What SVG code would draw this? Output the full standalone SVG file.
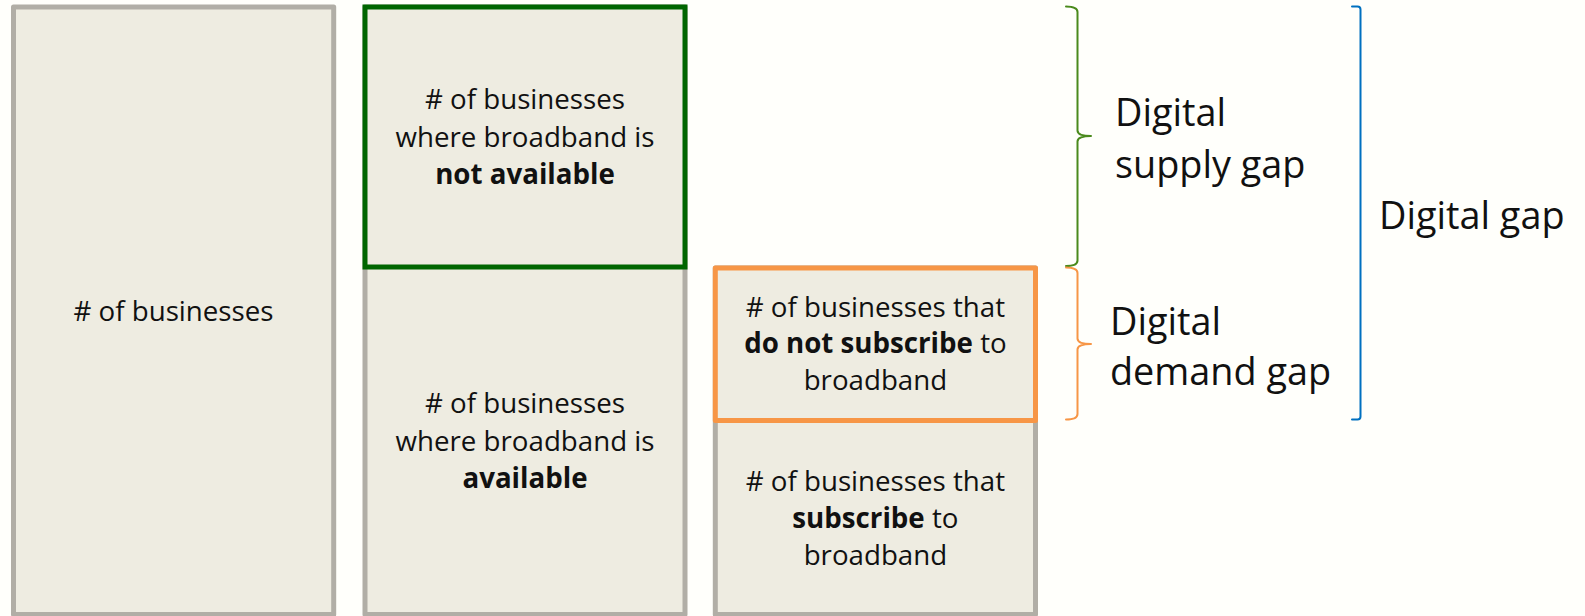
<svg xmlns="http://www.w3.org/2000/svg" width="1585" height="616" viewBox="0 0 1585 616">
<style>
.box{fill:#EEECE1;stroke:#B1AEA6;stroke-width:5;stroke-linejoin:round}
.green{fill:#EEECE1;stroke:#006600;stroke-width:5}
.orange{fill:#EEECE1;stroke:#F79646;stroke-width:5;stroke-linejoin:round}
.t{font-family:"Open Sans","Liberation Sans",sans-serif;font-size:27.7px;fill:#111;text-anchor:middle}
.b{font-weight:bold}
.lbl{font-family:"Open Sans","Liberation Sans",sans-serif;font-size:37.8px;fill:#111}
.brace{fill:none;stroke-width:2;stroke-linecap:round;stroke-linejoin:round}
</style>
<rect width="1585" height="616" fill="#FFFFFB"/>
<g id="node-all">
<rect class="box" x="13.5" y="7" width="320.2" height="607.5"/>
<text class="t" x="173.5" y="321"># of businesses</text>
</g>
<g id="node-available">
<rect class="box" x="365" y="7" width="320" height="607.5"/>
<text class="t" x="525" y="413.3"># of businesses</text>
<text class="t" x="525" y="450.7">where broadband is</text>
<text class="t b" x="525" y="488.3">available</text>
</g>
<g id="node-not-available">
<rect class="green" x="365" y="7" width="320" height="260"/>
<text class="t" x="525" y="109.3"># of businesses</text>
<text class="t" x="525" y="146.7">where broadband is</text>
<text class="t b" x="525" y="184">not available</text>
</g>
<g id="node-subscribe">
<rect class="box" x="715.3" y="268" width="320.2" height="346.5"/>
<text class="t" x="875.4" y="490.7"># of businesses that</text>
<text class="t" x="875.4" y="528.3"><tspan class="b">subscribe</tspan> to</text>
<text class="t" x="875.4" y="565">broadband</text>
</g>
<g id="node-not-subscribe">
<rect class="orange" x="715.3" y="268" width="320.2" height="152.5"/>
<text class="t" x="875.4" y="316.7"># of businesses that</text>
<text class="t" x="875.4" y="353.3"><tspan class="b">do not subscribe</tspan> to</text>
<text class="t" x="875.4" y="390">broadband</text>
</g>
<g id="braces">
<path class="brace" stroke="#4A8A1C" d="M1066,6.5 Q1077.5,6.5 1077.5,12 V130.5 Q1077.5,136 1091,136 Q1077.5,136 1077.5,141.5 V260.5 Q1077.5,266 1066,266"/>
<path class="brace" stroke="#F79646" d="M1066,267.5 Q1077.5,267.5 1077.5,273 V338.5 Q1077.5,344 1091,344 Q1077.5,344 1077.5,349.5 V414 Q1077.5,419.5 1066,419.5"/>
<path class="brace" stroke="#0070C0" d="M1352,6.5 H1357.5 Q1360.5,6.5 1360.5,9.5 V416.5 Q1360.5,419.5 1357.5,419.5 H1352"/>
</g>
<g id="label-supply">
<text class="lbl" x="1115" y="125.5">Digital</text>
<text class="lbl" x="1115" y="178">supply gap</text>
</g>
<g id="label-demand">
<text class="lbl" x="1110" y="334.5">Digital</text>
<text class="lbl" x="1110" y="385">demand gap</text>
</g>
<g id="label-gap">
<text class="lbl" x="1379" y="228.5">Digital gap</text>
</g>
</svg>
